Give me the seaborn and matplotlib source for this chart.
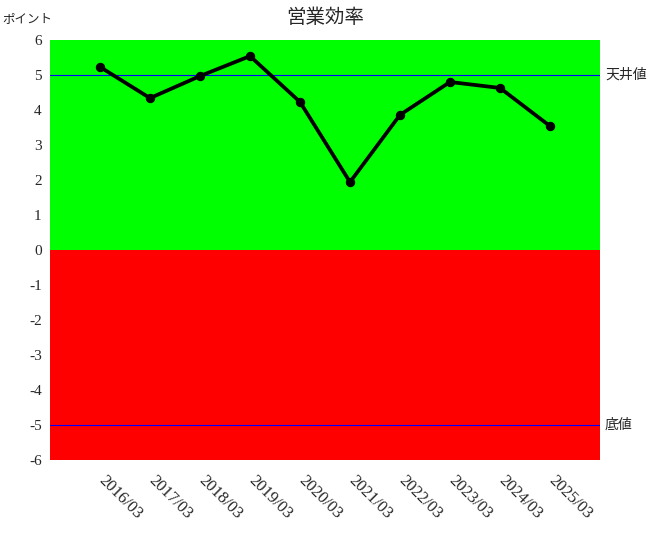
import pandas as pd
import matplotlib
matplotlib.use('Agg')
import matplotlib.pyplot as plt
import matplotlib.transforms as mtransforms
import seaborn as sns

# data
periods = ['2016/03', '2017/03', '2018/03', '2019/03', '2020/03',
           '2021/03', '2022/03', '2023/03', '2024/03', '2025/03']
points = [5.23, 4.34, 4.97, 5.54, 4.23, 1.94, 3.86, 4.80, 4.63, 3.54]
ceiling = 5
floor = -5

df = pd.DataFrame({'period': periods, 'point': points})

sns.set_style('white')
plt.rcParams['font.family'] = ['Liberation Serif', 'Noto Sans CJK JP', 'DejaVu Sans']
plt.rcParams['axes.unicode_minus'] = False

fig = plt.figure(figsize=(6.5, 5.4), dpi=100)
ax = fig.add_axes([50 / 650, 80 / 540, 550 / 650, 420 / 540])

# background zones
ax.axhspan(0, 6, color='#00ff00', lw=0, zorder=0)
ax.axhspan(-6, 0, color='#ff0000', lw=0, zorder=0)
ax.axhline(ceiling, color='#0000ff', lw=0.8, zorder=1)
ax.axhline(floor, color='#0000ff', lw=0.8, zorder=1)

sns.lineplot(data=df, x='period', y='point', ax=ax, color='black', lw=2.7,
             marker='o', markersize=6, markeredgecolor='black', sort=False, zorder=3)

ax.set_xlim(-1, len(periods))
ax.set_ylim(-6, 6)
ax.set_yticks(range(-6, 7))
ax.set_xlabel('')
ax.set_ylabel('')
for s in ax.spines.values():
    s.set_visible(False)
ax.tick_params(axis='y', length=0, labelsize=11, pad=6)
ax.tick_params(axis='x', length=0, labelsize=12, pad=9)
shift = mtransforms.ScaledTranslation(7 / 100, 0, fig.dpi_scale_trans)
for lab in ax.get_xticklabels():
    lab.set_rotation(-45)
    lab.set_ha('left')
    lab.set_va('top')
    lab.set_rotation_mode('anchor')
    lab.set_transform(lab.get_transform() + shift)

ax.text(len(periods) + 0.1, ceiling, '天井値', va='center', ha='left', fontsize=10)
ax.text(len(periods) + 0.1, floor, '底値', va='center', ha='left', fontsize=10)

fig.text(325 / 650, 1 - 18 / 540, '営業効率', ha='center', va='center', fontsize=14)
fig.text(2 / 650, 1 - 19 / 540, 'ポイント', ha='left', va='center', fontsize=9)

fig.savefig('out.png', dpi=100)
